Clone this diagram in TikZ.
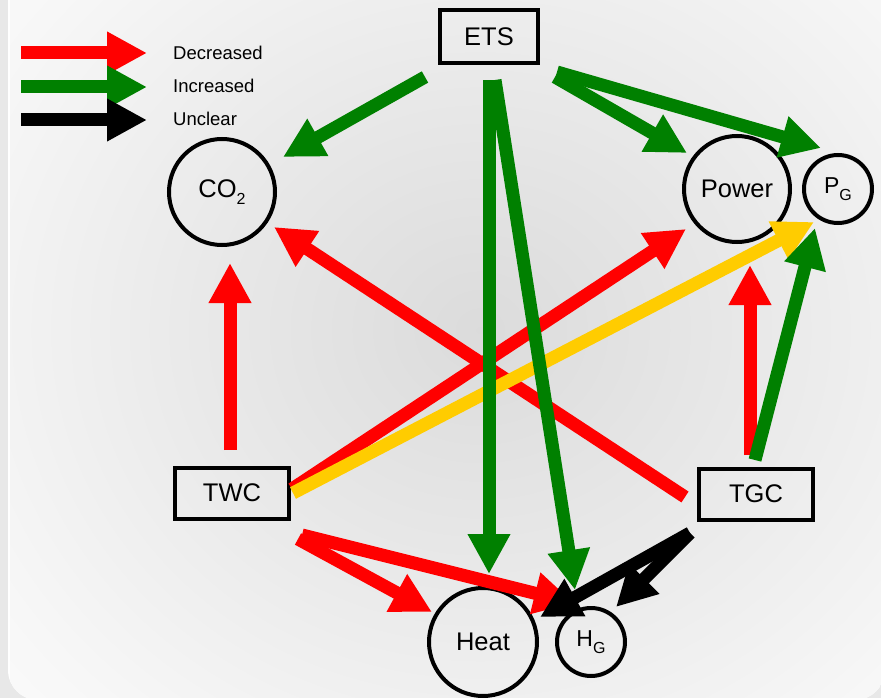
\documentclass[tikz,border=0pt]{standalone}
\usepackage{fontspec}
\setmainfont{Liberation Sans}
\usetikzlibrary{positioning,arrows.meta,calc}
\definecolor{effred}{RGB}{255,0,0}
\definecolor{effgreen}{RGB}{0,128,0}
\definecolor{effgold}{RGB}{255,204,0}
\definecolor{pagegray}{RGB}{232,232,232}
\pgfdeclareradialshading{panelglow}{\pgfpointorigin}{color(0bp)=(black!14); color(14bp)=(black!9); color(30bp)=(black!3); color(42bp)=(white); color(50bp)=(white)}
\newcommand{\bigfont}{\fontsize{25.5}{28}\selectfont}
\newcommand{\midfont}{\fontsize{23}{26}\selectfont}
\newcommand{\subfont}{\fontsize{16}{18}\selectfont}
\tikzset{
  policy/.style={draw, line width=4pt, minimum width=114pt, minimum height=51pt,
                 inner sep=0pt, font=\bigfont},
  outcome/.style={circle, draw, line width=4pt, minimum size=106pt, inner sep=0pt, font=\bigfont},
  share/.style={outcome, minimum size=68pt, font=\midfont},
  effect/.style={line width=13pt, -{Triangle[length=40pt,width=40pt]}},
  dec/.style={effect, effred},
  inc/.style={effect, effgreen},
  unc/.style={effect, black},
  mix/.style={effect, effgold},
  lgd/.style={anchor=west, inner sep=0pt, font=\fontsize{18.5}{20}\selectfont}
}

\begin{document}
\begin{tikzpicture}[x=1pt, y=-1pt]
  \useasboundingbox (0,0) rectangle (881,698);
  % background panel
  \fill[pagegray] (0,0) rectangle (881,698);
  \begin{scope}
    \clip[rounded corners=30pt] (8,-60) rectangle (885,700);
    \fill[white] (8,-60) rectangle (885,700);
    \shade[shading=panelglow] (10,-90) rectangle (950,750);
  \end{scope}

  % legend
  \node[lgd] (lgdec) at (173,53) {Decreased};
  \node[lgd] (lginc) at (173,86) {Increased};
  \node[lgd] (lgunc) at (173,119) {Unclear};
  \draw[dec] ($(lgdec.west)+(-152,0)$) -- ($(lgdec.west)+(-26,0)$);
  \draw[inc] ($(lginc.west)+(-152,1)$) -- ($(lginc.west)+(-26,1)$);
  \draw[unc] ($(lgunc.west)+(-152,1)$) -- ($(lgunc.west)+(-26,1)$);

  % policies and outcomes
  \node[policy, minimum width=98pt, minimum height=53pt] (ets) at (489,37) {ETS};
  \node[policy] (twc) at (232,493) {TWC};
  \node[policy] (tgc) at (756,494) {TGC};
  \node[outcome] (co2) at (222,192) {CO\raisebox{-0.3em}{\subfont 2}};
  \node[outcome] (power) at (737,189) {Power};
  \node[share, right=10pt of power] (pg) {P\raisebox{-0.3em}{\subfont G}};
  \node[outcome, minimum size=108pt] (heat) at (483,642) {Heat};
  \node[share, right=16pt of heat] (hg) {H\raisebox{-0.3em}{\subfont G}};

  % decreased
  \draw[dec] ($(twc)+(-2,-43)$) -- ($(co2)+(8,71)$);
  \draw[dec] ($(tgc)+(-6,-39)$) -- ($(power)+(13,76)$);
  \draw[dec] ($(tgc)+(-71,3)$) -- ($(co2)+(52,35)$);
  \draw[dec] ($(twc)+(60,-4)$) -- ($(power)+(-51,40)$);
  \draw[dec] ($(twc)+(66,46)$) -- ($(heat)+(-51,-30)$);
  \draw[dec] ($(twc)+(70,42)$) -- ($(hg)+(-17,-39)$);
  % mixed
  \draw[mix] ($(twc)+(61,0)$) -- ($(pg)+(-24,33)$);
  % increased
  \draw[inc] ($(ets)+(-64,40)$) -- ($(co2)+(61,-35)$);
  \draw[inc] ($(ets)+(0,43)$) -- ($(heat)+(6,-68)$);
  \draw[inc] ($(ets)+(6,43)$) -- ($(hg)+(-16,-52)$);
  \draw[inc] ($(ets)+(66,40)$) -- ($(power)+(-50,-36)$);
  \draw[inc] ($(ets)+(68,35)$) -- ($(pg)+(-17,-41)$);
  \draw[inc] ($(tgc)+(-1,-34)$) -- ($(pg)+(-23,39)$);
  % unclear
  \draw[unc] ($(tgc)+(-66,39)$) -- ($(heat)+(57,-25)$);
  \draw[unc] ($(tgc)+(-66,39)$) -- ($(hg)+(25,-35)$);
\end{tikzpicture}
\end{document}
